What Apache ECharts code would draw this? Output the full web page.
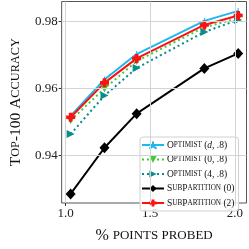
<!DOCTYPE html>
<html><head><meta charset="utf-8">
<script src="https://cdn.jsdelivr.net/npm/echarts@6/dist/echarts.min.js"></script>
<style>html,body{margin:0;padding:0;background:#fff}#c{width:249px;height:249px}</style>
</head><body><div id="c"></div>
<script>
const xProbed = [1.03, 1.23, 1.42, 1.82, 2.02];
const optD = [0.9518, 0.9627, 0.9703, 0.9802, 0.9832];
const opt0 = [0.9505, 0.9600, 0.9682, 0.9783, 0.9810];
const opt4 = [0.9464, 0.9579, 0.9661, 0.9769, 0.9805];
const sub0 = [0.9285, 0.9423, 0.9525, 0.9660, 0.9705];
const sub2 = [0.9514, 0.9617, 0.9690, 0.9790, 0.9818];
const xTicks = [1.0, 1.5, 2.0];
const yTicks = [0.94, 0.96, 0.98];
const names = ['Optimist (d, .8)', 'Optimist (0, .8)', 'Optimist (4, .8)', 'SubPartition (0)', 'SubPartition (2)'];

const F = 'Liberation Serif, DejaVu Serif, serif';
const pairs = a => xProbed.map((x, i) => [x, a[i]]);
const plusPath = 'path://M3,0h4v3h3v4h-3v3h-4v-3h-3v-4h3z';
const triPath = 'path://M0,0L0,-10M0,0L-8.66,5M0,0L8.66,5';

function mk(name, data, color, symbol, size, dotted, rot, extra) {
  return Object.assign({
    name, type: 'line', data: pairs(data), symbol, symbolSize: size, symbolRotate: rot || 0,
    lineStyle: { color, width: 2, type: dotted ? [2, 3] : 'solid' },
    itemStyle: { color, borderWidth: 0 },
    animation: false, z: 3
  }, extra || {});
}

const gridSeries = {
  name: '_grid', type: 'line', data: [], silent: true, z: 1, animation: false,
  markLine: {
    silent: true, symbol: 'none', animation: false, label: { show: false },
    lineStyle: { color: '#d4d4d4', width: 1, type: 'solid' },
    data: xTicks.map(v => ({ xAxis: v })).concat(yTicks.map(v => ({ yAxis: v })))
  }
};

const series = [
  gridSeries,
  mk(names[0], optD, '#1ab8f2', triPath, 6, false, 0, { itemStyle: { color: 'rgba(0,0,0,0)', borderColor: '#1ab8f2', borderWidth: 1 } }),
  mk(names[1], opt0, '#3ccc3c', 'triangle', 8, true, 180),
  mk(names[2], opt4, '#0a8c8c', 'triangle', 8, true, -90),
  mk(names[3], sub0, '#000000', 'diamond', [10, 11], false, 0),
  mk(names[4], sub2, '#ff1010', plusPath, 9, false, 0)
];

const rich = {
  c: { fontFamily: F, fontSize: 9.5, color: '#111' },
  s: { fontFamily: F, fontSize: 7.2, color: '#111' },
  i: { fontFamily: F, fontSize: 9.5, fontStyle: 'italic', color: '#111' }
};
function legendFmt(n) {
  const m = {
    'Optimist (d, .8)': '{c|O}{s|PTIMIST}{c| (}{i|d}{c|, .8)}',
    'Optimist (0, .8)': '{c|O}{s|PTIMIST}{c| (0, .8)}',
    'Optimist (4, .8)': '{c|O}{s|PTIMIST}{c| (4, .8)}',
    'SubPartition (0)': '{c|S}{s|UB}{c|P}{s|ARTITION}{c| (0)}',
    'SubPartition (2)': '{c|S}{s|UB}{c|P}{s|ARTITION}{c| (2)}'
  };
  return m[n];
}

const chart = echarts.init(document.getElementById('c'), null, { renderer: 'canvas' });
chart.setOption({
  animation: false,
  grid: { left: 45.5, right: 2.5, top: 1.5, bottom: 34.5, show: true, borderColor: '#555', borderWidth: 1, backgroundColor: 'transparent' },
  xAxis: {
    type: 'value', min: 0.977, max: 2.069,
    axisLine: { show: false },
    axisTick: { show: true, inside: false, length: 3, lineStyle: { color: '#333' }, customValues: xTicks },
    axisLabel: { customValues: xTicks, fontFamily: F, fontSize: 13, color: '#222', margin: 4, formatter: v => v.toFixed(1) },
    splitLine: { show: false },
    name: '{c|% }{s|POINTS PROBED}', nameLocation: 'middle', nameGap: 25,
    nameTextStyle: { rich: { c: { fontFamily: F, fontSize: 16, color: '#111' }, s: { fontFamily: F, fontSize: 13, color: '#111' } } }
  },
  yAxis: {
    type: 'value', min: 0.9258, max: 0.986,
    axisLine: { show: false },
    axisTick: { show: true, inside: false, length: 3, lineStyle: { color: '#333' }, customValues: yTicks },
    axisLabel: { customValues: yTicks, fontFamily: F, fontSize: 13, color: '#222', margin: 4, formatter: v => v.toFixed(2) },
    splitLine: { show: false },
    name: '{c|T}{s|OP}{c|-100 A}{s|CCURACY}', nameLocation: 'middle', nameGap: 31, nameRotate: 90,
    nameTextStyle: { rich: { c: { fontFamily: F, fontSize: 15.5, color: '#111' }, s: { fontFamily: F, fontSize: 12.3, color: '#111' } } }
  },
  legend: {
    orient: 'vertical', left: 140, top: 137, itemWidth: 22, itemHeight: 9, itemGap: 4.5,
    padding: [3, 4, 3, 1], backgroundColor: 'rgba(255,255,255,0.85)', borderColor: '#d0d0d0', borderWidth: 1, borderRadius: 3,
    data: names, formatter: legendFmt,
    textStyle: { rich, padding: [0, 0, 0, -2] }
  },
  series
});
</script></body></html>
